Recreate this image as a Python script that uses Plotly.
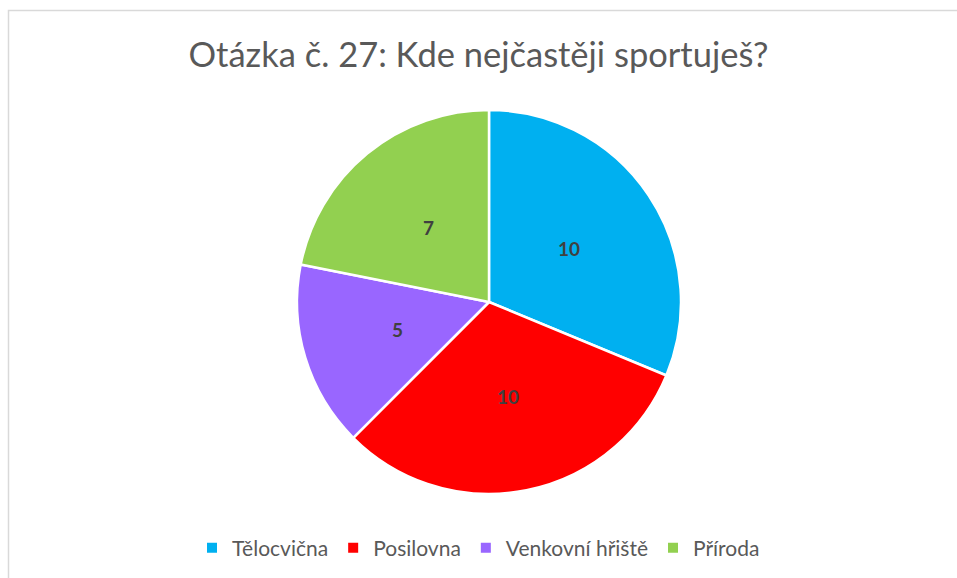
import math
import plotly.graph_objects as go

categories = ["Tělocvična", "Posilovna", "Venkovní hřiště", "Příroda"]
values = [10, 10, 5, 7]
colors = ["#00B0F0", "#FF0000", "#9966FF", "#92D050"]

W, H = 957, 578
CX, CY, R = 489, 302, 192  # pie centre / radius in px

fig = go.Figure(go.Pie(
    labels=categories,
    values=values,
    sort=False,
    direction="clockwise",
    rotation=0,
    marker=dict(colors=colors, line=dict(color="white", width=2.5)),
    textinfo="none",
    domain=dict(x=[(CX - R) / W, (CX + R) / W], y=[1 - (CY + R) / H, 1 - (CY - R) / H]),
    hoverinfo="label+value+percent",
))

# data labels at the middle of each slice, Excel-style (about half the radius)
annotations = []
total = sum(values)
cum = 0
for v in values:
    mid = (cum + v / 2) / total * 2 * math.pi
    cum += v
    px = CX + 0.5 * R * math.sin(mid)
    py = CY - 0.5 * R * math.cos(mid)
    annotations.append(dict(
        x=px / W, y=1 - py / H, xref="paper", yref="paper",
        text=f"<b>{v}</b>", showarrow=False,
        font=dict(family="Lato", size=19, color="#404040"),
        xanchor="center", yanchor="middle"))

fig.update_layout(
    width=W, height=H,
    margin=dict(l=0, r=0, t=0, b=0),
    paper_bgcolor="white",
    title=dict(text="Otázka č. 27: Kde nejčastěji sportuješ?",
               x=0.5, xanchor="center", y=1 - 55 / H, yanchor="middle",
               font=dict(family="Lato", size=34.5, color="#595959")),
    legend=dict(orientation="h", x=0.5, xanchor="center", y=1 - 548 / H, yanchor="middle",
                font=dict(family="Lato", size=21, color="#595959"),
                itemsizing="constant", traceorder="normal"),
    annotations=annotations,
    shapes=[dict(type="rect", xref="paper", yref="paper",
                 x0=8.5 / W, x1=1.05, y0=-0.05, y1=1 - 10.5 / H,
                 line=dict(color="#D9D9D9", width=1.5), fillcolor="rgba(0,0,0,0)")],
)

fig.write_html("out.html", config={"displayModeBar": False},
               post_script="document.body.style.margin='0';")
